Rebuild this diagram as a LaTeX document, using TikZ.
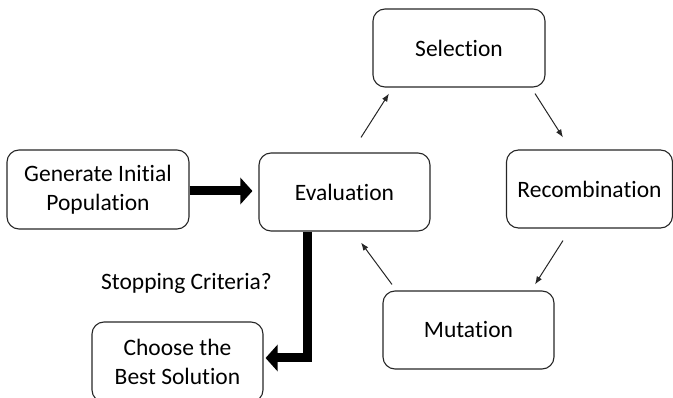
\documentclass[tikz,border=0pt]{standalone}
\usepackage{fontspec}
\setmainfont{Carlito}[Ligatures=NoCommon]
\usetikzlibrary{arrows.meta}
\begin{document}
\begin{tikzpicture}[x=1pt,y=-1pt,
  box/.style={draw=black!85, line width=1.1pt, rounded corners=12pt, align=center,
    font=\fontsize{23.5}{28.5}\selectfont, inner sep=0pt},
  thin/.style={draw=black!85, line width=1pt, -{Latex[length=8pt,width=6pt]}},
  thick/.style={draw=black, line width=9pt, -{Triangle[length=12pt,width=26pt]}}]
\useasboundingbox (0,0) rectangle (673,398);
\node[box, minimum width=182pt, minimum height=79pt] (gen) at (98,189.5) {Generate Initial\\Population};
\node[box, minimum width=171pt, minimum height=78pt] (eval) at (344.5,192) {Evaluation};
\node[box, minimum width=172pt, minimum height=78pt] (sel) at (459,48) {Selection};
\node[box, minimum width=166pt, minimum height=78pt] (rec) at (589.5,189) {Recombination};
\node[box, minimum width=171pt, minimum height=78pt] (mut) at (468.5,330) {Mutation};
\node[box, minimum width=171pt, minimum height=80pt] (cho) at (177.5,362) {Choose the\\Best Solution};
\node[font=\fontsize{23.5}{28.5}\selectfont, inner sep=0pt] (stop) at (186.5,283) {Stopping Criteria?};
\draw[thick] ([yshift=-1.5pt]gen.east) -- ([xshift=-6pt,yshift=-1.5pt]gen.east -| eval.west);
\draw[thick] ([xshift=-37pt]eval.south) |- ([xshift=2pt,yshift=4pt]cho.east);
\draw[thin] ([shift={(16.5,-15)}]eval.north) -- ([shift={(-70,6)}]sel.south);
\draw[thin] ([shift={(76,6)}]sel.south) -- ([shift={(-26.5,-12)}]rec.north);
\draw[thin] ([shift={(-26.5,12)}]rec.south) -- ([shift={(66.5,-6)}]mut.north);
\draw[thin] ([shift={(-76.5,-6)}]mut.north) -- ([shift={(16.5,11)}]eval.south);
\end{tikzpicture}
\end{document}
